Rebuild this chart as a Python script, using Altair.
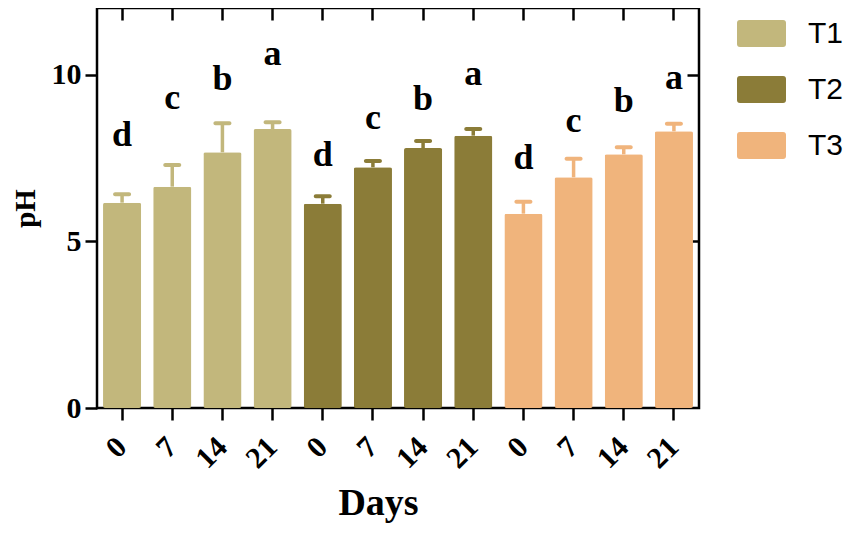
import altair as alt
import pandas as pd

# ---- data ----
groups = ["T1"] * 4 + ["T2"] * 4 + ["T3"] * 4
days = ["0", "7", "14", "21"] * 3
means = [6.16, 6.64, 7.67, 8.37, 6.13, 7.22, 7.80, 8.17, 5.83, 6.92, 7.61, 8.30]
errs = [0.25, 0.65, 0.87, 0.20, 0.22, 0.19, 0.21, 0.20, 0.36, 0.56, 0.21, 0.23]
letters = ["d", "c", "b", "a"] * 3
letter_y = [7.87, 8.97, 9.54, 10.30, 7.27, 8.37, 8.94, 9.70, 7.17, 8.27, 8.87, 9.57]
treatments = ["T1", "T2", "T3"]
colors = ["#C2B77C", "#8B7C38", "#F0B47C"]
y_ticks = [0, 5, 10]

df = pd.DataFrame({
    "group": groups,
    "day": days,
    "mean": means,
    "err": errs,
    "letter": letters,
    "ly": letter_y,
})
df["key"] = df["group"] + "-" + df["day"]
df["hi"] = df["mean"] + df["err"]
order = list(df["key"])

serif = "Liberation Serif"
sans = "Liberation Sans"

x_scale = alt.Scale(domain=order, paddingInner=0.24, paddingOuter=0.12)
y_scale = alt.Scale(domain=[0, 12], nice=False, zero=True)
color_scale = alt.Scale(domain=treatments, range=colors)

rect_path = ("M-0.88,-0.55 H0.88 Q1,-0.55 1,-0.43 V0.43 Q1,0.55 0.88,0.55 "
             "H-0.88 Q-1,0.55 -1,0.43 V-0.43 Q-1,-0.55 -0.88,-0.55 Z")

legend = alt.Legend(
    title=None, orient="none", legendX=640, legendY=1,
    symbolType=rect_path, symbolSize=2401, symbolStrokeWidth=0, symbolOpacity=1,
    labelFont=sans, labelFontSize=30, labelOffset=22, labelColor="black",
    rowPadding=16, padding=0,
)
color_enc = alt.Color("group:N", scale=color_scale, legend=legend)

x_bottom = alt.Axis(
    orient="bottom", title="Days", labelExpr="split(datum.label, '-')[1]",
    labelAngle=-45, labelAlign="right", labelBaseline="middle",
    labelFont=serif, labelFontWeight="bold", labelFontSize=30,
    labelColor="black", labelPadding=22, tickSize=12, tickWidth=2.5, tickColor="black",
    domain=False, grid=False,
    titleFont=serif, titleFontSize=38, titleFontWeight="bold", titleColor="black",
    titleX=281, titleY=106, titleBaseline="alphabetic",
)
y_left = alt.Axis(
    orient="left", title="pH", values=y_ticks,
    labelFont=serif, labelFontWeight="bold", labelFontSize=30, labelColor="black",
    labelPadding=4, tickSize=12, tickWidth=2.5, tickColor="black",
    domain=False, grid=False,
    titleFont=serif, titleFontSize=29, titleFontWeight="bold", titleColor="black",
    titleX=-63, titleY=200, titleBaseline="alphabetic", titleAngle=270,
)
x_top = alt.Axis(
    orient="top", title=None, labels=False, domain=False, grid=False,
    tickSize=12, tickWidth=2.5, tickColor="black", offset=-12,
)
y_right = alt.Axis(
    orient="right", title=None, labels=False, domain=False, grid=False,
    values=[5, 10], tickSize=12, tickWidth=2.5, tickColor="black", offset=-12,
)

base = alt.Chart(df)

bars = base.mark_bar(cornerRadius=2).encode(
    x=alt.X("key:N", scale=x_scale, axis=x_bottom, sort=order),
    y=alt.Y("mean:Q", scale=y_scale, axis=y_left),
    color=color_enc,
)
stems = base.mark_rule(strokeWidth=3.5).encode(
    x=alt.X("key:N", axis=None, sort=order),
    y=alt.Y("mean:Q", axis=None),
    y2="hi:Q",
    color=color_enc,
)
caps = base.mark_tick(thickness=4, size=18, cornerRadius=2, opacity=1).encode(
    x=alt.X("key:N", axis=None, sort=order),
    y=alt.Y("hi:Q", axis=None),
    color=color_enc,
)
text = base.mark_text(
    font=serif, fontWeight="bold", fontSize=36, baseline="alphabetic",
    align="center", color="black",
).encode(
    x=alt.X("key:N", axis=x_top, sort=order),
    y=alt.Y("ly:Q", axis=y_right),
    text="letter:N",
)

chart = alt.layer(bars, stems, caps, text).resolve_axis(
    x="independent", y="independent"
).properties(
    width=602, height=400,
    autosize=alt.AutoSizeParams(type="none"),
    padding={"left": 89, "top": 0, "right": 144, "bottom": 115},
).configure_view(
    stroke="black", strokeWidth=2.5
)

chart.save("out.html", embed_options={"renderer": "svg", "actions": False})
